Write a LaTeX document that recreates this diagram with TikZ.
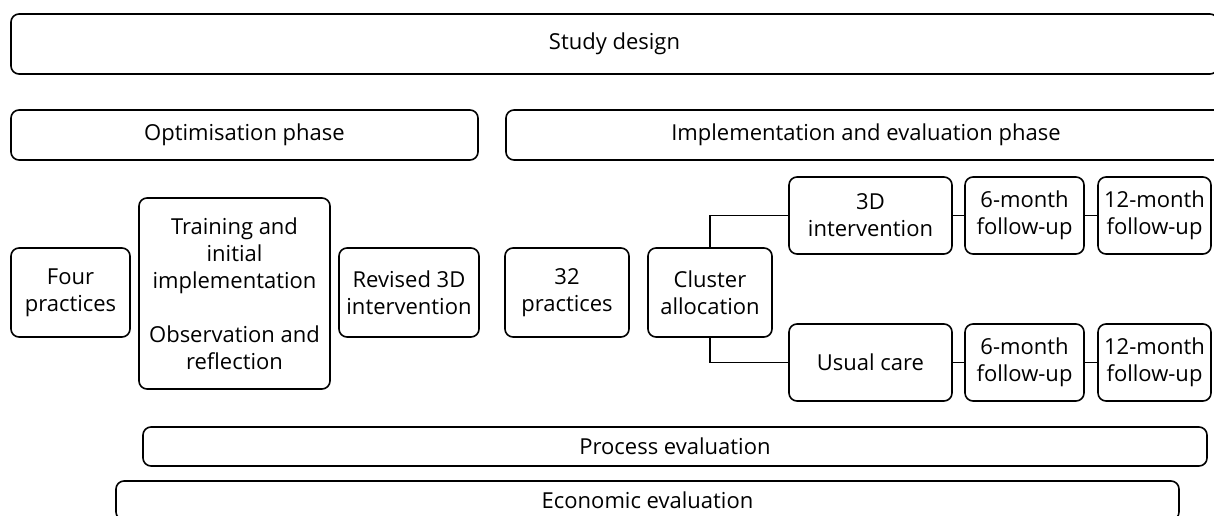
\documentclass[tikz,border=0pt]{standalone}
\usepackage{fontspec}
\setmainfont{Open Sans}
\begin{document}
\begin{tikzpicture}[x=1pt,y=-1pt,
  box/.style={draw, line width=1.6pt, rounded corners=8pt, inner sep=0pt, outer sep=0pt,
    align=center, font=\fontsize{22}{27}\selectfont},
  link/.style={line width=1.6pt}]
\useasboundingbox (0,0) rectangle (1214,516);
\clip (0,0) rectangle (1214,516);
\node[box, minimum width=1207pt, minimum height=60pt] (study) at (614.5,44) {Study design};
\node[box, minimum width=467pt, minimum height=50pt] (opt) at (244.5,135) {Optimisation phase};
\node[box, minimum width=720pt, minimum height=50pt] (impl) at (866,135) {Implementation and evaluation phase};
\node[box, minimum width=119pt, minimum height=89pt] (four) at (70.5,292.5) {Four\\practices};
\node[box, minimum width=191pt, minimum height=191pt] (train) at (234.5,293.5) {Training and\\initial\\implementation\\[27pt]Observation and\\reflection};
\node[box, minimum width=140pt, minimum height=89pt] (rev) at (409,292.5) {Revised 3D\\intervention};
\node[box, minimum width=124pt, minimum height=89pt] (p32) at (567,292.5) {32\\practices};
\node[box, minimum width=124pt, minimum height=89pt] (clus) at (710,292.5) {Cluster\\allocation};
\node[box, minimum width=163pt, minimum height=77pt] (int) at (870.5,215.5) {3D\\intervention};
\node[box, minimum width=163pt, minimum height=77pt] (usual) at (870.5,362.5) {Usual care};
\node[box, minimum width=119pt, minimum height=77pt] (sixA) at (1024.5,215.5) {6-month\\follow-up};
\node[box, minimum width=113pt, minimum height=77pt] (twelveA) at (1154.5,215.5) {12-month\\follow-up};
\node[box, minimum width=119pt, minimum height=77pt] (sixB) at (1024.5,362.5) {6-month\\follow-up};
\node[box, minimum width=113pt, minimum height=77pt] (twelveB) at (1154.5,362.5) {12-month\\follow-up};
\node[box, minimum width=1064pt, minimum height=39pt] (proc) at (675,446.5) {Process evaluation};
\node[box, minimum width=1063pt, minimum height=39pt] (econ) at (647.5,500.5) {Economic evaluation};
\draw[link] (clus.north) |- (int.west);
\draw[link] (clus.south) |- (usual.west);
\draw[link] (int) -- (sixA);
\draw[link] (sixA) -- (twelveA);
\draw[link] (usual) -- (sixB);
\draw[link] (sixB) -- (twelveB);
\end{tikzpicture}
\end{document}
